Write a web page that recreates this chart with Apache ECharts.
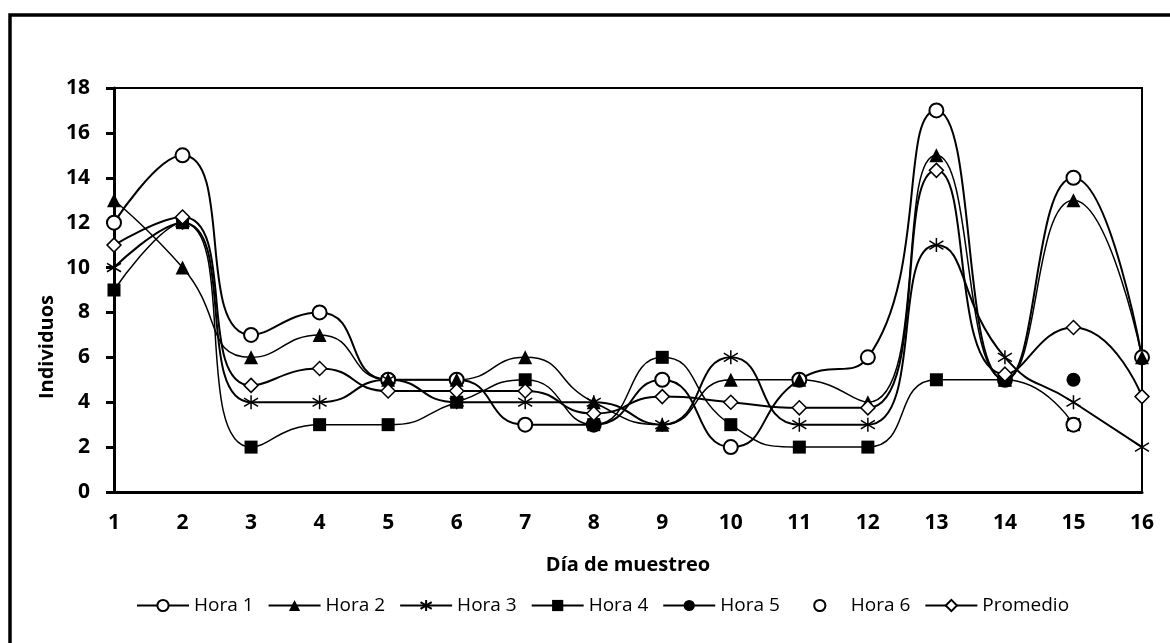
<!DOCTYPE html>
<html>
<head>
<meta charset="utf-8">
<script src="https://cdn.jsdelivr.net/npm/echarts@6.0.0/dist/echarts.min.js"></script>
<style>
  html, body { margin: 0; padding: 0; background: #fff; }
  #chart { width: 1170px; height: 643px; }
</style>
</head>
<body>
<div id="chart"></div>
<script>
// días de muestreo
const dias = ['1', '2', '3', '4', '5', '6', '7', '8', '9', '10', '11', '12', '13', '14', '15', '16']
const yTicks = [0, 2, 4, 6, 8, 10, 12, 14, 16, 18]

// individuos por hora
const hora1 = [12, 15, 7, 8, 5, 5, 3, 3, 5, 2, 5, 6, 17, 5, 14, 6]
const hora2 = [13, 10, 6, 7, 5, 5, 6, 4, 3, 5, 5, 4, 15, 5, 13, 6]
const hora3 = [10, 12, 4, 4, 5, 4, 4, 4, 3, 6, 3, 3, 11, 6, 4, 2]
const hora4 = [9, 12, 2, 3, 3, 4, 5, 3, 6, 3, 2, 2, 5, 5, 3, null]
const hora5 = [null, null, null, null, null, null, null, null, null, null, null, null, null, null, 5, null]
const hora6 = [null, null, null, null, null, null, null, null, null, null, null, null, null, null, 3, null]
const promedio = [11, 12.25, 4.75, 5.5, 4.5, 4.5, 4.5, 3.5, 4.25, 4, 3.75, 3.75, 14.33, 5.25, 7.33, 4.25]

const FONT = '"Open Sans", "Noto Sans", sans-serif'
const asterisco = 'path://M0,-10L0,10M-10,-6L10,6M-10,6L10,-6'

// serie de línea con estilo común
const linea = (name, data, symbol, size, fill, lw, bw) => ({
  name,
  type: 'line',
  data,
  smooth: 0.55,
  symbol,
  symbolSize: size,
  showAllSymbol: true,
  connectNulls: false,
  lineStyle: { color: '#000', width: lw },
  itemStyle: { color: fill, borderColor: '#000', borderWidth: bw },
  emphasis: { disabled: true },
})

const chart = echarts.init(document.getElementById('chart'))
chart.setOption({
  animation: false,
  backgroundColor: '#fff',
  textStyle: { fontFamily: FONT, color: '#000' },
  grid: {
    left: 114,
    right: 28,
    top: 88,
    bottom: 151,
    show: true,
    borderColor: '#000',
    borderWidth: 2,
  },
  legend: {
    left: 131,
    top: 591,
    itemWidth: 52,
    itemHeight: 14,
    itemGap: 14,
    textStyle: { fontFamily: FONT, fontSize: 19, color: '#000' },
    data: ['Hora 1', 'Hora 2', 'Hora 3', 'Hora 4', 'Hora 5', 'Hora 6', 'Promedio'],
  },
  xAxis: {
    type: 'category',
    data: dias,
    boundaryGap: false,
    name: 'Día de muestreo',
    nameLocation: 'middle',
    nameGap: 63,
    nameTextStyle: { fontFamily: FONT, fontSize: 20, fontWeight: 'bold', color: '#000' },
    axisLine: { lineStyle: { color: '#000', width: 3 } },
    axisTick: { show: false },
    axisLabel: { fontFamily: FONT, fontSize: 21, fontWeight: 'bold', color: '#000', margin: 21 },
    splitLine: { show: false },
  },
  yAxis: {
    type: 'value',
    min: yTicks[0],
    max: yTicks[yTicks.length - 1],
    interval: 2,
    axisLine: { show: true, lineStyle: { color: '#000', width: 3 } },
    axisTick: { show: true, inside: false, length: 8, lineStyle: { color: '#000', width: 3 } },
    axisLabel: { fontFamily: FONT, fontSize: 21, fontWeight: 'bold', color: '#000', margin: 24 },
    splitLine: { show: false },
  },
  graphic: [
    {
      type: 'rect',
      shape: { x: 10, y: 15, width: 1400, height: 1000 },
      style: { fill: 'none', stroke: '#000', lineWidth: 3.5 },
      silent: true,
    },
    {
      type: 'text',
      x: 47,
      y: 347,
      rotation: Math.PI / 2,
      style: {
        text: 'Individuos',
        font: 'bold 20px ' + FONT,
        fill: '#000',
        align: 'center',
        verticalAlign: 'middle',
      },
      silent: true,
    },
  ],
  series: [
    linea('Hora 1', hora1, 'circle', 14, '#fff', 2, 2),
    linea('Hora 2', hora2, 'triangle', 14, '#000', 1.5, 0),
    linea('Hora 3', hora3, asterisco, 14, '#000', 2, 1.5),
    linea('Hora 4', hora4, 'rect', 13, '#000', 1.5, 0),
    linea('Hora 5', hora5, 'circle', 14, '#000', 2, 0),
    Object.assign(linea('Hora 6', hora6, 'circle', 14, '#fff', 0, 2), { lineStyle: { color: '#000', width: 0, opacity: 0 } }),
    linea('Promedio', promedio, 'diamond', 14, '#fff', 2, 1.5),
  ],
})
</script>
</body>
</html>
